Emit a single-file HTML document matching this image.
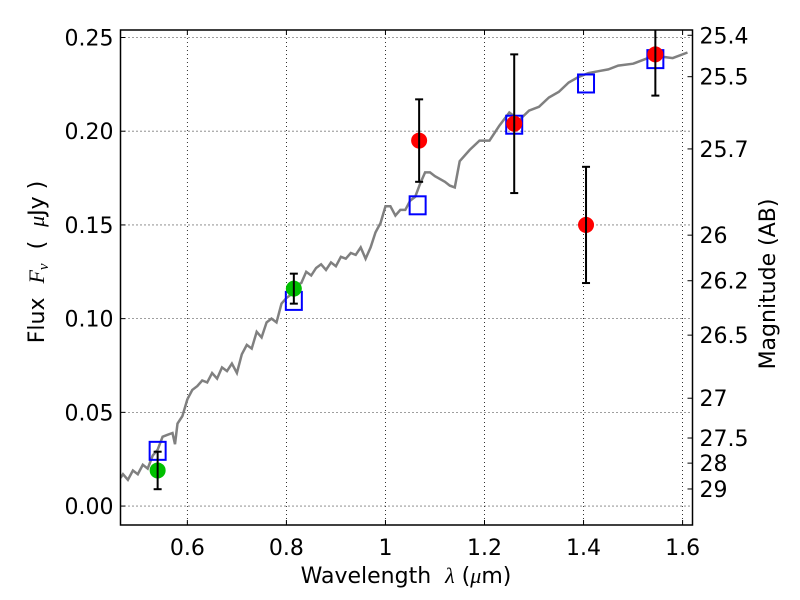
<!DOCTYPE html>
<html><head><meta charset="utf-8"><style>
html,body{margin:0;padding:0;background:#fff;}
svg{display:block;font-family:"DejaVu Sans","Liberation Sans",sans-serif;}
</style></head><body>
<svg id="chart" width="800" height="600" xmlns="http://www.w3.org/2000/svg"></svg>
<script>
const specWave=[0.465,0.47,0.48,0.49,0.50,0.51,0.52,0.53,0.54,0.55,0.56,0.57,0.575,0.58,0.59,0.60,0.61,0.62,0.63,0.64,0.65,0.66,0.67,0.68,0.69,0.70,0.71,0.72,0.73,0.74,0.75,0.76,0.77,0.78,0.79,0.80,0.81,0.82,0.83,0.84,0.85,0.86,0.87,0.88,0.89,0.90,0.91,0.92,0.93,0.94,0.95,0.96,0.97,0.98,0.99,1.0,1.01,1.02,1.03,1.04,1.05,1.06,1.07,1.08,1.09,1.10,1.12,1.13,1.14,1.15,1.17,1.19,1.21,1.23,1.25,1.27,1.29,1.31,1.33,1.35,1.37,1.39,1.41,1.43,1.45,1.47,1.50,1.53,1.55,1.58,1.61];
const specFlux=[0.015,0.017,0.014,0.019,0.017,0.022,0.020,0.027,0.030,0.037,0.038,0.039,0.033,0.044,0.048,0.057,0.062,0.064,0.067,0.066,0.071,0.068,0.074,0.072,0.076,0.071,0.081,0.086,0.084,0.093,0.090,0.098,0.100,0.098,0.108,0.111,0.113,0.118,0.119,0.125,0.123,0.127,0.129,0.126,0.130,0.128,0.133,0.132,0.135,0.134,0.138,0.132,0.138,0.146,0.151,0.160,0.160,0.155,0.158,0.158,0.163,0.165,0.172,0.178,0.178,0.176,0.173,0.171,0.170,0.184,0.190,0.195,0.195,0.203,0.210,0.206,0.211,0.213,0.218,0.221,0.226,0.229,0.231,0.232,0.233,0.235,0.236,0.239,0.240,0.239,0.242];
const greenWave=[0.54,0.815];
const greenFlux=[0.019,0.116];
const greenErr=[0.010,0.008];
const redWave=[1.068,1.26,1.405,1.545];
const redFlux=[0.195,0.204,0.150,0.241];
const redErr=[0.022,0.037,0.031,0.022];
const modelWave=[0.54,0.815,1.065,1.26,1.405,1.545];
const modelFlux=[0.030,0.110,0.161,0.204,0.226,0.239];
const xTicks=[0.6,0.8,1.0,1.2,1.4,1.6];
const xTickLabels=["0.6","0.8","1","1.2","1.4","1.6"];
const yTicks=[0,0.05,0.10,0.15,0.20,0.25];
const yTickLabels=["0.00","0.05","0.10","0.15","0.20","0.25"];
const magTicks=[25.4,25.5,25.7,26,26.2,26.5,27,27.5,28,29];
const magTickLabels=["25.4","25.5","25.7","26","26.2","26.5","27","27.5","28","29"];

const L=120.5,R=692.5,T=30,B=525;
const X0=0.465,X1=1.62,Y0=-0.0101,Y1=0.254;
const sx=v=>L+(v-X0)/(X1-X0)*(R-L);
const sy=v=>B-(v-Y0)/(Y1-Y0)*(B-T);
const svg=document.getElementById('chart');
const NS='http://www.w3.org/2000/svg';
function mk(tag,attrs,parent){const e=document.createElementNS(NS,tag);for(const k in attrs)e.setAttribute(k,attrs[k]);(parent||svg).appendChild(e);return e;}

const clip=mk('clipPath',{id:'pc'});mk('rect',{x:L,y:T,width:R-L,height:B-T},clip);

xTicks.forEach((v,i)=>{
  const x=sx(v);
  const g=mk('line',{x1:x,x2:x,y1:T,y2:B,stroke:'#000','stroke-width':0.8,'stroke-dasharray':'1,3'});
  
  
  mk('line',{x1:x,x2:x,y1:B,y2:B-5,stroke:'#000'});
  mk('line',{x1:x,x2:x,y1:T,y2:T+5,stroke:'#000'});
  const t=mk('text',{x:x,y:B+30,'text-anchor':'middle','font-size':22});
  t.textContent=xTickLabels[i];
  
  
});
yTicks.forEach((v,i)=>{
  const y=sy(v);
  const g=mk('line',{x1:L,x2:R,y1:y,y2:y,stroke:'#000','stroke-width':0.8,'stroke-dasharray':'1,3'});
  
  
  mk('line',{x1:L,x2:L+5,y1:y,y2:y,stroke:'#000'});
  const t=mk('text',{x:L-7,y:y+8,'text-anchor':'end','font-size':22});
  t.textContent=yTickLabels[i];
  
  
});
magTicks.forEach((m,i)=>{
  const y=sy(Math.pow(10,(23.9-m)/2.5));
  mk('line',{x1:R,x2:R-5,y1:y,y2:y,stroke:'#000'});
  const t=mk('text',{x:R+7,y:y+8,'font-size':22});
  t.textContent=magTickLabels[i];
  
  
});

let d='';specWave.forEach((w,i)=>{d+=(i?'L':'M')+sx(w).toFixed(1)+','+sy(specFlux[i]).toFixed(1);});
const sp=mk('path',{d:d,fill:'none',stroke:'#808080','stroke-width':2.5,'clip-path':'url(#pc)'});



modelWave.forEach((w,i)=>{
  const r=mk('rect',{x:sx(w)-8,y:sy(modelFlux[i])-8,width:16,height:18,fill:'none',stroke:'#0000ff','stroke-width':2});
  
  
});
function pts(ws,fs,es,col,name){
  ws.forEach((w,i)=>{
    const x=sx(w);
    const c=mk('circle',{cx:x,cy:sy(fs[i]),r:8,fill:col,'clip-path':'url(#pc)'});
    
    
    const top=Math.max(sy(fs[i]+es[i]),T),bot=sy(fs[i]-es[i]);
    const e=mk('g',{stroke:'#000','stroke-width':2});
    
    
    mk('line',{x1:x,x2:x,y1:top,y2:bot},e);
    if(sy(fs[i]+es[i])>=T) mk('line',{x1:x-4,x2:x+4,y1:top,y2:top},e);
    mk('line',{x1:x-4,x2:x+4,y1:bot,y2:bot},e);
  });
}
pts(greenWave,greenFlux,greenErr,'#00c000','green-data-point');
pts(redWave,redFlux,redErr,'#ff0000','red-data-point');

const fr=mk('rect',{x:L,y:T,width:R-L,height:B-T,fill:'none',stroke:'#000','stroke-width':1.5});



const xl=mk('text',{x:406,y:583,'text-anchor':'middle','font-size':22});
xl.innerHTML='Wavelength\u00a0\u00a0<tspan font-style="italic" font-family="Liberation Serif,serif">λ</tspan>\u00a0(<tspan font-style="italic" font-family="Liberation Serif,serif">μ</tspan>m)';


const yl=mk('text',{x:0,y:0,'text-anchor':'middle','font-size':22,transform:'translate(44,262) rotate(-90)'});
yl.innerHTML='Flux\u00a0\u00a0<tspan font-style="italic" font-family="Liberation Serif,serif">F<tspan font-size="15" dy="4">ν</tspan></tspan><tspan dy="-4">\u00a0\u00a0(\u00a0\u00a0</tspan><tspan font-style="italic" font-family="Liberation Serif,serif">μ</tspan>Jy\u00a0)';


const ml=mk('text',{x:0,y:0,'text-anchor':'middle','font-size':22,transform:'translate(775,284) rotate(-90)'});
ml.textContent='Magnitude (AB)';


</script>
</body></html>
